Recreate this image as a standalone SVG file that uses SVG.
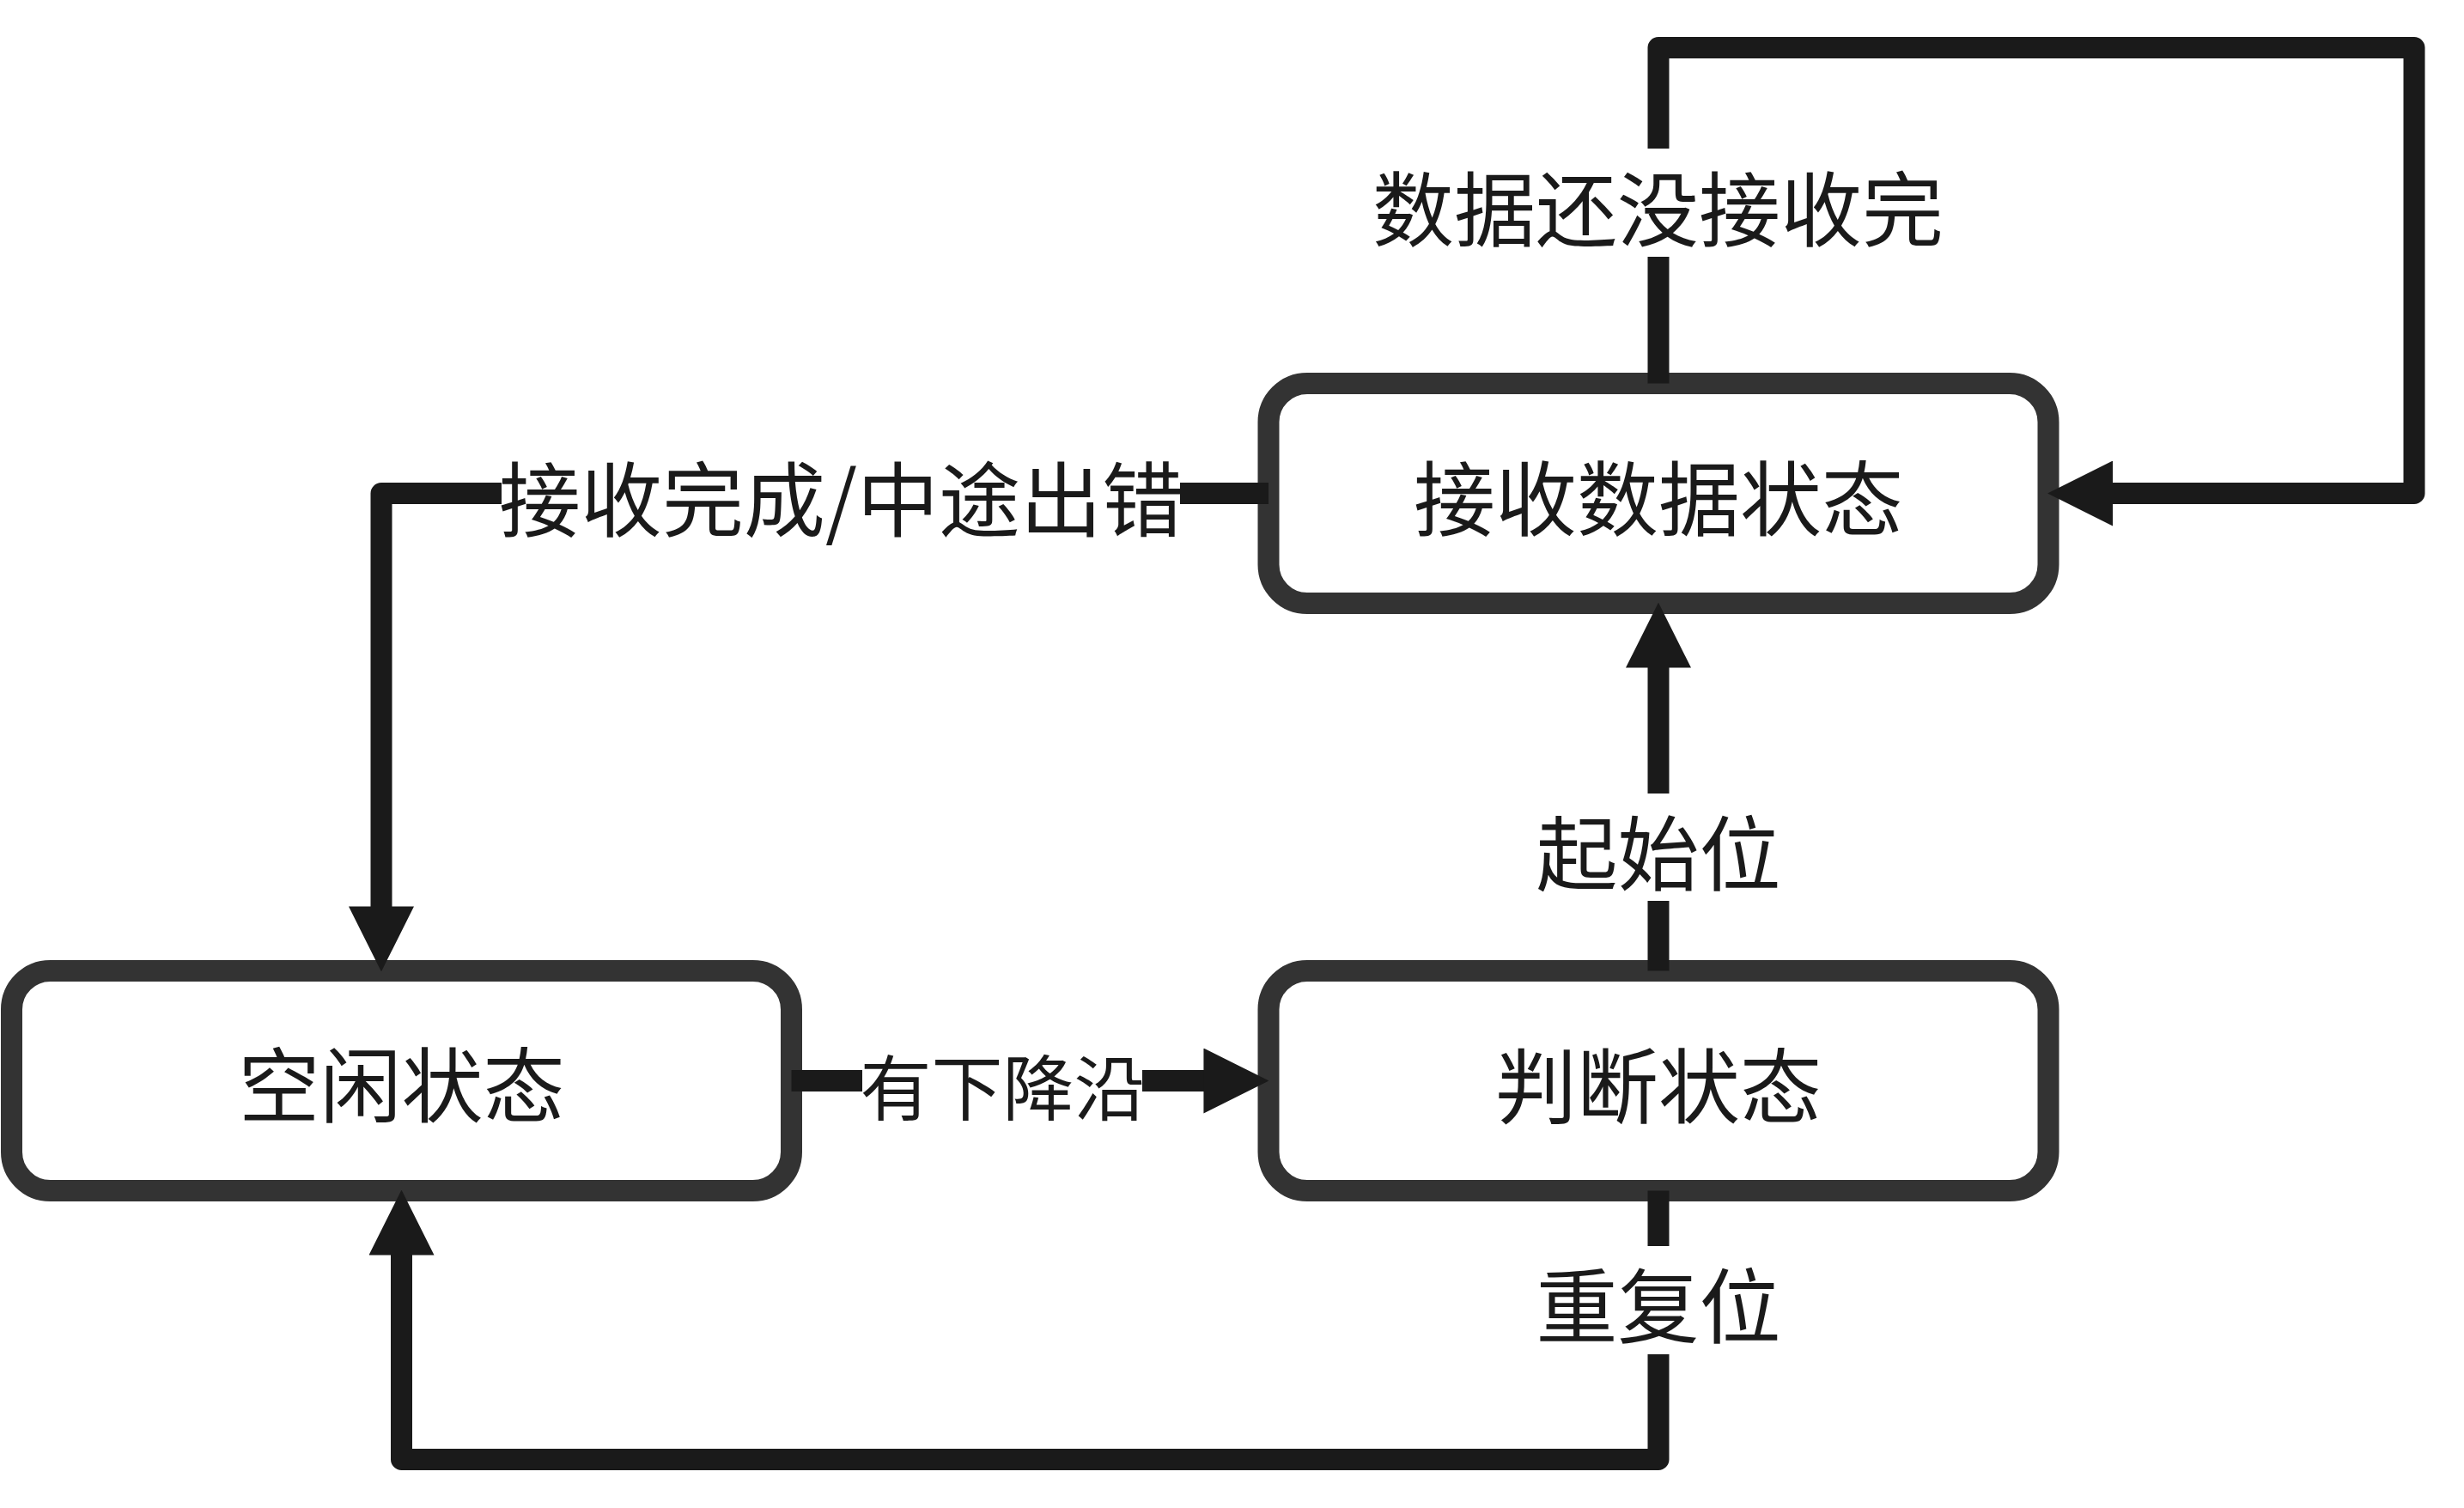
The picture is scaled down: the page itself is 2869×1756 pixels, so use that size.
<svg xmlns="http://www.w3.org/2000/svg" width="2869" height="1756" viewBox="0 0 2869 1756">
<style>
  .node rect { fill: #ffffff; stroke: #333333; stroke-width: 25; }
  .node text { font-family: "Noto Sans CJK SC", "Noto Sans", sans-serif; font-size: 95px; fill: #1a1a1a; text-anchor: middle; }
  .edge { fill: none; stroke: #1a1a1a; stroke-width: 25; stroke-linejoin: round; stroke-linecap: butt; marker-end: url(#arrow); }
  .lbl-bg { fill: #ffffff; stroke: none; }
  .lbl { font-family: "Noto Sans CJK SC", "Noto Sans", sans-serif; font-size: 95px; fill: #1a1a1a; text-anchor: middle; }
  .lbl-s { font-size: 83px; }
</style>
<defs>
  <marker id="arrow" markerUnits="userSpaceOnUse" markerWidth="76" markerHeight="76" viewBox="0 0 75 75" refX="5" refY="37.5" orient="auto">
    <path d="M0,0 L75,37.5 L0,75 Z" fill="#1a1a1a"/>
  </marker>
</defs>
<rect x="0" y="0" width="2869" height="1756" fill="#ffffff"/>

<g id="node-idle" class="node">
  <rect x="13.5" y="1130.5" width="908" height="256" rx="45" ry="45"/>
  <text x="467.5" y="1300">空闲状态</text>
</g>
<g id="node-recv" class="node">
  <rect x="1477" y="446.5" width="908" height="256" rx="45" ry="45"/>
  <text x="1931" y="617">接收数据状态</text>
</g>
<g id="node-judge" class="node">
  <rect x="1477" y="1130.5" width="908" height="256" rx="45" ry="45"/>
  <text x="1931" y="1301">判断状态</text>
</g>

<g id="connectors">
  <g id="edge-idle-judge">
    <path class="edge" d="M921.5,1258.5 L1406.5,1258.5"/>
    <rect class="lbl-bg" x="1004" y="1200" width="326" height="118"/>
    <text class="lbl lbl-s" x="1167.5" y="1298">有下降沿</text>
  </g>
  <g id="edge-judge-recv">
    <path class="edge" d="M1931,1130.5 L1931,772.5"/>
    <rect class="lbl-bg" x="1789" y="924" width="284" height="125"/>
    <text class="lbl" x="1931" y="1030">起始位</text>
  </g>
  <g id="edge-recv-idle">
    <path class="edge" d="M1477,574.5 L444,574.5 L444,1060.5"/>
    <rect class="lbl-bg" x="584" y="512" width="790" height="125"/>
    <text class="lbl" x="979.5" y="618">接收完成/中途出错</text>
  </g>
  <g id="edge-recv-loop">
    <path class="edge" d="M1931,446.5 L1931,55.5 L2811,55.5 L2811,574.5 L2455,574.5"/>
    <rect class="lbl-bg" x="1600" y="173" width="662" height="126"/>
    <text class="lbl" x="1930.5" y="280">数据还没接收完</text>
  </g>
  <g id="edge-judge-idle">
    <path class="edge" d="M1931,1386.5 L1931,1699.5 L467.5,1699.5 L467.5,1456.5"/>
    <rect class="lbl-bg" x="1788" y="1451" width="286" height="126"/>
    <text class="lbl" x="1931" y="1557">重复位</text>
  </g>
</g>
</svg>
